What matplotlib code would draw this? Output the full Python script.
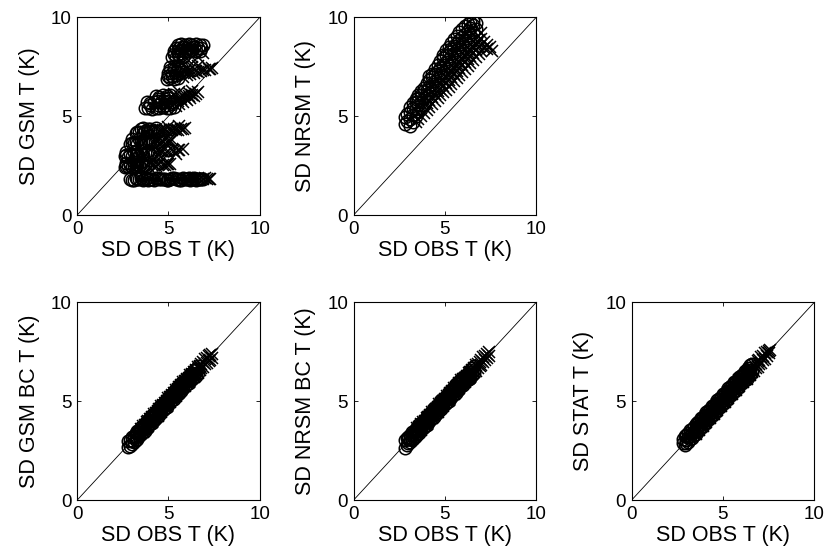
import numpy as np
import matplotlib
matplotlib.use('Agg')
import matplotlib.pyplot as plt

plt.rcParams['font.family'] = ['Liberation Sans', 'DejaVu Sans']

# ---- panel 1: SD GSM vs SD OBS, banded values ----
# circles (o) by band
gsm_o_x = (
    [2.9, 3.1, 3.3, 3.5, 3.7, 3.9, 4.1, 4.3, 4.5, 4.7, 4.9, 5.1, 5.3, 5.5, 5.7, 5.9, 6.1, 6.3, 6.5, 6.7, 6.9]
    + [3.0, 3.2, 3.4, 3.6, 3.8, 4.0, 4.2, 4.4, 4.6, 4.8, 5.0, 5.2, 5.4, 5.6, 5.8, 6.0, 6.2, 6.4, 6.6, 6.8]
    + [2.6, 2.8, 3.0, 3.2, 3.4, 3.6, 3.8, 2.7, 2.9, 3.1, 3.3, 3.5, 2.7, 2.9, 3.1, 3.3, 3.5, 3.7]
    + [2.6, 2.8, 3.0, 3.2, 3.4, 3.6, 3.8, 4.0, 4.2, 2.7, 3.1, 3.5, 3.9, 5.0, 2.7, 2.9, 3.3, 3.7, 4.1]
    + [2.9, 3.1, 3.3, 3.5, 3.7, 3.9, 4.1, 3.0, 3.4, 3.8, 3.0, 3.2, 3.6, 4.0]
    + [3.2, 3.4, 3.6, 3.8, 4.0, 4.2, 4.4, 3.5, 3.9, 4.3, 3.3, 3.7, 4.1, 3.6, 4.0]
    + [3.7, 3.9, 4.1, 4.3, 4.5, 4.7, 4.9, 5.1, 5.3, 3.8, 4.0, 4.2, 4.4, 4.6, 4.8, 5.0, 5.2,
       4.3, 4.5, 4.7, 4.9, 5.1, 4.0, 4.4, 4.8, 5.2, 4.4, 4.8, 5.0]
    + [4.9, 5.1, 5.3, 5.5, 5.0, 5.2, 5.4, 5.6, 5.8, 5.1, 5.3, 5.5, 5.7, 5.0, 5.2, 5.4,
       5.1, 5.3, 5.5, 5.7]
    + [5.2, 5.4, 5.6, 5.8, 5.3, 5.5, 5.7, 5.9, 6.1, 6.3, 6.5, 6.7, 5.5, 5.7, 5.9, 6.1, 6.3,
       6.5, 6.7, 6.9, 5.4, 5.6, 5.8, 6.0, 6.2, 6.4, 6.6, 6.8, 5.3, 5.5, 5.7]
)
gsm_o_y = (
    [1.8, 1.75, 1.8, 1.85, 1.8, 1.75, 1.8, 1.85, 1.8, 1.8, 1.75, 1.8, 1.85, 1.8, 1.75, 1.8, 1.85, 1.8, 1.75, 1.8, 1.8]
    + [1.75, 1.85, 1.8, 1.75, 1.85, 1.8, 1.75, 1.85, 1.8, 1.8, 1.75, 1.85, 1.8, 1.75, 1.85, 1.8, 1.75, 1.85, 1.8, 1.8]
    + [2.45, 2.5, 2.45, 2.5, 2.5, 2.55, 2.5, 2.65, 2.65, 2.7, 2.6, 2.7, 2.5, 2.55, 2.5, 2.55, 2.6, 2.55]
    + [3.0, 2.95, 3.0, 3.05, 3.0, 3.05, 3.1, 3.05, 3.1, 3.2, 3.2, 3.25, 3.25, 3.3, 3.05, 3.1, 3.1, 3.15, 3.2]
    + [3.6, 3.65, 3.6, 3.7, 3.65, 3.7, 3.7, 3.85, 3.85, 3.9, 3.65, 3.7, 3.7, 3.75]
    + [4.15, 4.2, 4.15, 4.2, 4.25, 4.2, 4.25, 4.35, 4.35, 4.4, 4.2, 4.25, 4.2, 4.4, 4.35]
    + [5.4, 5.4, 5.35, 5.4, 5.4, 5.45, 5.4, 5.4, 5.45, 5.7, 5.65, 5.7, 5.75, 5.7, 5.7, 5.75, 5.7,
       6.0, 5.95, 6.05, 6.0, 6.05, 5.55, 5.55, 5.55, 5.6, 5.85, 5.85, 5.9]
    + [6.9, 6.95, 6.9, 6.95, 7.2, 7.2, 7.25, 7.2, 7.25, 7.5, 7.5, 7.55, 7.5, 7.05, 7.05, 7.1,
       7.35, 7.35, 7.4, 7.35]
    + [8.0, 8.0, 8.05, 8.0, 8.3, 8.3, 8.35, 8.3, 8.3, 8.35, 8.3, 8.3, 8.6, 8.65, 8.6, 8.65, 8.6,
       8.65, 8.6, 8.6, 8.45, 8.45, 8.5, 8.45, 8.45, 8.5, 8.45, 8.45, 8.15, 8.15, 8.2]
)
# crosses (x) by band
gsm_x_x = (
    [6.0, 6.3, 6.6, 6.9, 7.1, 7.3, 6.15, 6.45, 6.75, 7.0, 7.2]
    + [3.9, 4.1, 4.3, 4.5, 4.7, 4.9, 5.1, 4.0, 4.6, 4.2, 4.4, 4.8, 5.0]
    + [4.3, 4.6, 4.9, 5.2, 5.5, 5.8, 4.5, 5.4, 4.4, 4.7, 5.0, 5.3, 5.6]
    + [4.2, 4.4, 4.6, 4.8, 5.0, 5.2, 4.5, 4.9, 4.3, 4.7, 5.1]
    + [4.5, 4.7, 4.9, 5.1, 5.3, 5.5, 5.7, 5.9, 5.0, 5.6, 4.6, 4.8, 5.2, 5.4, 5.8]
    + [5.4, 5.6, 5.8, 6.0, 6.2, 6.4, 6.6, 5.5, 5.7, 5.9, 6.1, 6.3, 5.3, 5.6,
       5.5, 5.7, 5.9, 6.1, 6.3, 6.5]
    + [5.8, 6.0, 6.2, 6.4, 6.6, 6.8, 7.0, 7.2, 7.4, 6.0, 6.3, 6.6, 5.9, 6.1, 6.5, 6.9, 7.3]
    + [6.0, 6.3, 6.6, 6.9]
)
gsm_x_y = (
    [1.8, 1.8, 1.85, 1.8, 1.8, 1.8, 1.75, 1.8, 1.8, 1.85, 1.8]
    + [2.5, 2.55, 2.5, 2.6, 2.55, 2.6, 2.6, 2.7, 2.75, 2.55, 2.55, 2.55, 2.6]
    + [3.2, 3.25, 3.2, 3.3, 3.3, 3.35, 3.05, 3.1, 3.25, 3.25, 3.25, 3.25, 3.3]
    + [3.7, 3.75, 3.7, 3.8, 3.75, 3.8, 3.9, 3.9, 3.75, 3.75, 3.75]
    + [4.25, 4.3, 4.25, 4.3, 4.35, 4.3, 4.35, 4.4, 4.45, 4.5, 4.3, 4.3, 4.3, 4.3, 4.35]
    + [5.5, 5.6, 5.7, 5.8, 5.9, 6.0, 6.2, 5.85, 5.95, 6.05, 6.15, 6.25, 6.1, 6.2,
       5.75, 5.85, 5.9, 6.0, 6.05, 6.1]
    + [7.0, 7.1, 7.15, 7.2, 7.25, 7.3, 7.35, 7.4, 7.45, 7.45, 7.5, 7.55, 7.3, 7.3, 7.3, 7.35, 7.4]
    + [7.9, 8.0, 8.0, 8.2]
)

# ---- panel 2: SD NRSM vs SD OBS ----
nrsm_o_x = ([2.8, 2.8, 3.1, 3.1, 3.1, 3.1, 3.4, 3.4, 3.4, 3.4, 3.7, 3.7, 3.7, 3.7,
             4.0, 4.0, 4.0, 4.3, 4.3, 4.3, 4.3, 4.6, 4.6, 4.6, 4.6]
            + [4.9, 4.9, 4.9, 4.9, 5.2, 5.2, 5.2, 5.2, 5.5, 5.5, 5.5, 5.5, 5.8, 5.8, 5.8, 5.8,
               6.1, 6.1, 6.1, 6.1, 6.4, 6.4, 6.4, 6.4, 6.7, 6.7, 6.7]
            + [2.95, 2.95, 3.25, 3.25, 3.25, 3.25, 3.55, 3.55, 3.55, 3.55, 3.85, 3.85, 3.85, 3.85,
               4.15, 4.15, 4.15, 4.15, 4.45, 4.45, 4.45, 4.45, 4.75, 4.75, 4.75,
               5.05, 5.05, 5.05, 5.05, 5.35, 5.35, 5.35, 5.35, 5.65, 5.65, 5.65, 5.65,
               5.95, 5.95, 5.95, 5.95, 6.25, 6.25, 6.25, 6.25, 6.55, 6.55, 6.55, 6.55])
nrsm_o_y = ([4.6, 4.95, 4.5, 4.85, 5.2, 5.45, 5.0, 5.35, 5.7, 5.85, 5.35, 5.7, 6.05, 6.25,
             6.0, 6.35, 6.7, 6.3, 6.65, 7.0, 7.15, 6.6, 6.95, 7.3, 7.6]
            + [7.25, 7.6, 7.95, 8.1, 7.55, 7.9, 8.25, 8.5, 7.85, 8.2, 8.55, 8.9, 8.15, 8.5, 8.85, 9.25,
               8.45, 8.8, 9.15, 9.55, 8.75, 9.1, 9.45, 9.75, 9.05, 9.4, 9.7]
            + [4.75, 5.1, 4.7, 5.05, 5.4, 5.65, 5.2, 5.55, 5.9, 6.05, 5.55, 5.9, 6.25, 6.45,
               6.15, 6.5, 6.85, 7.05, 6.45, 6.8, 7.15, 7.4, 7.1, 7.45, 7.8,
               7.4, 7.75, 8.1, 8.35, 7.7, 8.05, 8.4, 8.7, 8.0, 8.35, 8.7, 9.05,
               8.3, 8.65, 9.0, 9.4, 8.6, 8.95, 9.3, 9.65, 8.9, 9.25, 9.6, 9.8])
nrsm_x_x = ([3.4, 3.7, 4.0, 4.0, 4.3, 4.3, 4.6, 4.6, 4.9, 4.9, 4.9, 5.2, 5.2, 5.2,
             5.5, 5.5, 5.5, 5.8, 5.8, 5.8, 6.1, 6.1, 6.1, 6.4, 6.4, 6.4, 6.7, 6.7, 6.7,
             7.0, 7.0, 7.0, 7.0, 7.3, 7.3, 7.6]
            + [3.55, 3.85, 4.15, 4.15, 4.45, 4.45, 4.75, 4.75, 4.75, 5.05, 5.05, 5.05,
               5.35, 5.35, 5.35, 5.65, 5.65, 5.65, 5.95, 5.95, 5.95, 6.25, 6.25, 6.25,
               6.55, 6.55, 6.55, 6.85, 6.85, 6.85, 7.15, 7.15, 7.45])
nrsm_x_y = ([4.7, 5.0, 5.3, 5.65, 5.6, 5.95, 5.9, 6.25, 6.2, 6.55, 6.9, 6.5, 6.85, 7.2,
             6.8, 7.15, 7.5, 7.1, 7.45, 7.8, 7.4, 7.75, 8.1, 7.7, 8.05, 8.4, 8.0, 8.35, 8.7,
             8.3, 8.6, 8.9, 9.2, 8.4, 8.6, 8.3]
            + [4.85, 5.15, 5.45, 5.8, 5.75, 6.1, 6.05, 6.4, 6.75, 6.35, 6.7, 7.05,
               6.65, 7.0, 7.35, 6.95, 7.3, 7.65, 7.25, 7.6, 7.95, 7.55, 7.9, 8.25,
               7.85, 8.2, 8.55, 8.15, 8.5, 8.85, 8.45, 8.75, 8.5])

# ---- bottom row: bias-corrected and statistical models, shared SD OBS ----
obs_o = [2.8, 2.9, 3.0, 3.1, 3.2, 3.3, 3.4, 3.5, 3.6, 3.7, 3.8, 3.9, 4.0, 4.1, 4.2, 4.3,
         4.4, 4.5, 4.6, 4.7, 4.8, 4.9, 5.0, 5.1, 5.2, 5.3, 5.4, 5.5, 5.6, 5.7, 5.8, 5.9,
         6.0, 6.1, 6.2, 6.3, 6.4, 6.5, 6.6]
obs_m = [3.0, 3.1, 3.2, 3.3, 3.4, 3.5, 3.6, 3.7, 3.8, 3.9, 4.0, 4.1, 4.2, 4.3, 4.4, 4.5,
         4.6, 4.7, 4.8, 4.9, 5.0, 5.1, 5.2, 5.3, 5.4, 5.5, 5.6, 5.7, 5.8, 5.9, 6.0, 6.1,
         6.2, 6.3, 6.4, 6.5]
obs_x = [3.5, 3.6, 3.7, 3.8, 3.9, 4.0, 4.1, 4.2, 4.3, 4.4, 4.5, 4.6, 4.7, 4.8, 4.9, 5.0,
         5.1, 5.2, 5.3, 5.4, 5.5, 5.6, 5.7, 5.8, 5.9, 6.0, 6.1, 6.2, 6.3, 6.4, 6.5, 6.6,
         6.7, 6.8, 6.9, 7.0, 7.1, 7.2, 7.3, 7.4]

gsmbc_o_hi = [3.0, 3.05, 3.2, 3.25, 3.4, 3.5, 3.55, 3.7, 3.75, 3.9, 4.0, 4.05, 4.2, 4.3, 4.35,
              4.5, 4.55, 4.7, 4.8, 4.85, 5.0, 5.1, 5.15, 5.3, 5.35, 5.5, 5.6, 5.65, 5.8, 5.9,
              5.95, 6.1, 6.15, 6.3, 6.4, 6.45, 6.6, 6.65, 6.8]
gsmbc_o_lo = [2.7, 2.75, 2.85, 2.95, 3.05, 3.1, 3.25, 3.35, 3.45, 3.5, 3.65, 3.75, 3.85, 3.9,
              4.05, 4.15, 4.25, 4.3, 4.45, 4.55, 4.65, 4.7, 4.85, 4.95, 5.05, 5.1, 5.25, 5.35,
              5.45, 5.5, 5.65, 5.75, 5.85, 5.9, 6.05, 6.15, 6.25, 6.3, 6.45]
gsmbc_o_mid = [3.0, 3.2, 3.2, 3.4, 3.4, 3.6, 3.6, 3.8, 3.8, 4.0, 4.0, 4.2, 4.2, 4.4, 4.4, 4.6,
               4.6, 4.8, 4.8, 5.0, 5.0, 5.2, 5.2, 5.4, 5.4, 5.6, 5.6, 5.8, 5.8, 6.0, 6.0, 6.2,
               6.2, 6.4, 6.4, 6.6]
gsmbc_x_hi = [3.6, 3.75, 3.8, 3.95, 4.0, 4.1, 4.2, 4.35, 4.4, 4.5, 4.6, 4.75, 4.8, 4.9, 5.0,
              5.15, 5.2, 5.3, 5.4, 5.55, 5.6, 5.7, 5.8, 5.95, 6.0, 6.1, 6.2, 6.35, 6.4, 6.5,
              6.6, 6.75, 6.8, 6.9, 7.0, 7.15, 7.2, 7.3, 7.35, 7.4]
gsmbc_x_lo = [3.4, 3.45, 3.6, 3.7, 3.75, 3.9, 3.95, 4.1, 4.2, 4.25, 4.4, 4.45, 4.6, 4.7, 4.75,
              4.9, 4.95, 5.1, 5.2, 5.25, 5.4, 5.45, 5.6, 5.7, 5.75, 5.9, 5.95, 6.1, 6.2, 6.25,
              6.4, 6.45, 6.6, 6.7, 6.75, 6.9, 6.95, 7.05, 7.1, 7.2]

nrsmbc_o_hi = [3.05, 3.15, 3.2, 3.3, 3.45, 3.5, 3.6, 3.7, 3.85, 3.9, 4.0, 4.1, 4.25, 4.3, 4.4,
               4.5, 4.65, 4.7, 4.8, 4.9, 5.05, 5.1, 5.2, 5.3, 5.45, 5.5, 5.6, 5.7, 5.85, 5.9,
               6.0, 6.1, 6.25, 6.3, 6.4, 6.5, 6.6, 6.7, 6.8]
nrsmbc_o_lo = [2.65, 2.8, 2.9, 2.95, 3.05, 3.15, 3.25, 3.35, 3.4, 3.55, 3.65, 3.75, 3.8, 3.95,
               4.05, 4.15, 4.2, 4.35, 4.45, 4.55, 4.6, 4.75, 4.85, 4.95, 5.0, 5.15, 5.25, 5.35,
               5.4, 5.55, 5.65, 5.75, 5.8, 5.95, 6.05, 6.15, 6.2, 6.35, 6.45]
nrsmbc_o_mid = [3.1, 3.1, 3.3, 3.3, 3.5, 3.5, 3.7, 3.7, 3.9, 3.9, 4.1, 4.1, 4.3, 4.3, 4.5, 4.5,
                4.7, 4.7, 4.9, 4.9, 5.1, 5.1, 5.3, 5.3, 5.5, 5.5, 5.7, 5.7, 5.9, 5.9, 6.1, 6.1,
                6.3, 6.3, 6.5, 6.5]
nrsmbc_x_hi = [3.65, 3.7, 3.85, 3.95, 4.0, 4.15, 4.2, 4.3, 4.45, 4.5, 4.6, 4.7, 4.85, 4.9, 5.0,
               5.1, 5.25, 5.3, 5.4, 5.5, 5.65, 5.7, 5.8, 5.9, 6.05, 6.1, 6.2, 6.3, 6.45, 6.5,
               6.6, 6.7, 6.85, 6.9, 7.0, 7.1, 7.25, 7.3, 7.4, 7.5]
nrsmbc_x_lo = [3.4, 3.5, 3.55, 3.7, 3.8, 3.85, 4.0, 4.1, 4.15, 4.3, 4.4, 4.45, 4.6, 4.7, 4.75,
               4.9, 5.0, 5.05, 5.2, 5.3, 5.35, 5.5, 5.6, 5.65, 5.8, 5.9, 5.95, 6.1, 6.2, 6.25,
               6.4, 6.5, 6.55, 6.7, 6.8, 6.85, 7.0, 7.1, 7.2, 7.3]

stat_o_hi = [3.1, 3.25, 3.3, 3.4, 3.55, 3.6, 3.7, 3.85, 3.9, 4.0, 4.15, 4.2, 4.3, 4.45, 4.5,
             4.6, 4.75, 4.8, 4.9, 5.05, 5.1, 5.2, 5.35, 5.4, 5.5, 5.65, 5.7, 5.8, 5.95, 6.0,
             6.1, 6.25, 6.3, 6.4, 6.55, 6.6, 6.7, 6.85, 6.9]
stat_o_lo = [2.9, 2.8, 2.9, 2.95, 3.1, 3.15, 3.3, 3.35, 3.5, 3.55, 3.7, 3.75, 3.9, 3.95, 4.1,
             4.15, 4.3, 4.35, 4.5, 4.55, 4.7, 4.75, 4.9, 4.95, 5.1, 5.15, 5.3, 5.35, 5.5, 5.55,
             5.7, 5.75, 5.9, 5.95, 6.1, 6.15, 6.3, 6.35, 6.5]
stat_o_mid = [3.05, 3.2, 3.25, 3.4, 3.45, 3.6, 3.65, 3.8, 3.85, 4.0, 4.05, 4.2, 4.25, 4.4, 4.45,
              4.6, 4.65, 4.8, 4.85, 5.0, 5.05, 5.2, 5.25, 5.4, 5.45, 5.6, 5.65, 5.8, 5.85, 6.0,
              6.05, 6.2, 6.25, 6.4, 6.45, 6.6]
stat_x_hi = [3.65, 3.7, 3.85, 3.9, 4.05, 4.1, 4.25, 4.3, 4.45, 4.5, 4.65, 4.7, 4.85, 4.9, 5.05,
             5.1, 5.25, 5.3, 5.45, 5.5, 5.65, 5.7, 5.85, 5.9, 6.05, 6.1, 6.25, 6.3, 6.45, 6.5,
             6.65, 6.7, 6.85, 6.9, 7.05, 7.1, 7.25, 7.3, 7.45, 7.5]
stat_x_lo = [3.35, 3.5, 3.55, 3.7, 3.75, 3.9, 3.95, 4.1, 4.15, 4.3, 4.35, 4.5, 4.55, 4.7, 4.75,
             4.9, 4.95, 5.1, 5.15, 5.3, 5.35, 5.5, 5.55, 5.7, 5.75, 5.9, 5.95, 6.1, 6.15, 6.3,
             6.35, 6.5, 6.55, 6.7, 6.75, 6.9, 6.95, 7.1, 7.15, 7.3]
stat_extra_x = [7.5, 7.6, 7.55]
stat_extra_y = [7.55, 7.6, 7.45]

panels = [
    (0, 0, 'SD GSM T (K)', [(gsm_o_x, gsm_o_y)], [(gsm_x_x, gsm_x_y)]),
    (0, 1, 'SD NRSM T (K)', [(nrsm_o_x, nrsm_o_y)], [(nrsm_x_x, nrsm_x_y)]),
    (1, 0, 'SD GSM BC T (K)', [(obs_o, gsmbc_o_hi), (obs_o, gsmbc_o_lo), (obs_m, gsmbc_o_mid)],
     [(obs_x, gsmbc_x_hi), (obs_x, gsmbc_x_lo)]),
    (1, 1, 'SD NRSM BC T (K)', [(obs_o, nrsmbc_o_hi), (obs_o, nrsmbc_o_lo), (obs_m, nrsmbc_o_mid)],
     [(obs_x, nrsmbc_x_hi), (obs_x, nrsmbc_x_lo)]),
    (1, 2, 'SD STAT T (K)', [(obs_o, stat_o_hi), (obs_o, stat_o_lo), (obs_m, stat_o_mid)],
     [(obs_x, stat_x_hi), (obs_x, stat_x_lo), (stat_extra_x, stat_extra_y)]),
]

fig = plt.figure(figsize=(8.3, 5.6), dpi=100)
lefts = [0.093, 0.426, 0.761]
bottoms = [0.616, 0.107]

for row, col, ylab, circ, crs in panels:
    ax = fig.add_axes([lefts[col], bottoms[row], 0.22, 0.353])
    for xs, ys in circ:
        ax.plot(xs, ys, 'o', mfc='none', mec='black', ms=9, mew=1.1)
    for xs, ys in crs:
        ax.plot(xs, ys, 'x', color='black', ms=9, mew=1.1)
    ax.plot([0, 10], [0, 10], color='black', lw=0.6)
    ax.set_xlim(0, 10)
    ax.set_ylim(0, 10)
    ax.set_xticks([0, 5, 10])
    ax.set_yticks([0, 5, 10])
    ax.tick_params(direction='in', length=3, width=0.6, top=True, right=True,
                   pad=4, labelsize=13.5)
    for s in ax.spines.values():
        s.set_linewidth(0.8)
    ax.set_xlabel('SD OBS T (K)', fontsize=15.5, labelpad=2)
    ax.set_ylabel(ylab, fontsize=15.5, labelpad=8)

fig.savefig('out.png', dpi=100)
